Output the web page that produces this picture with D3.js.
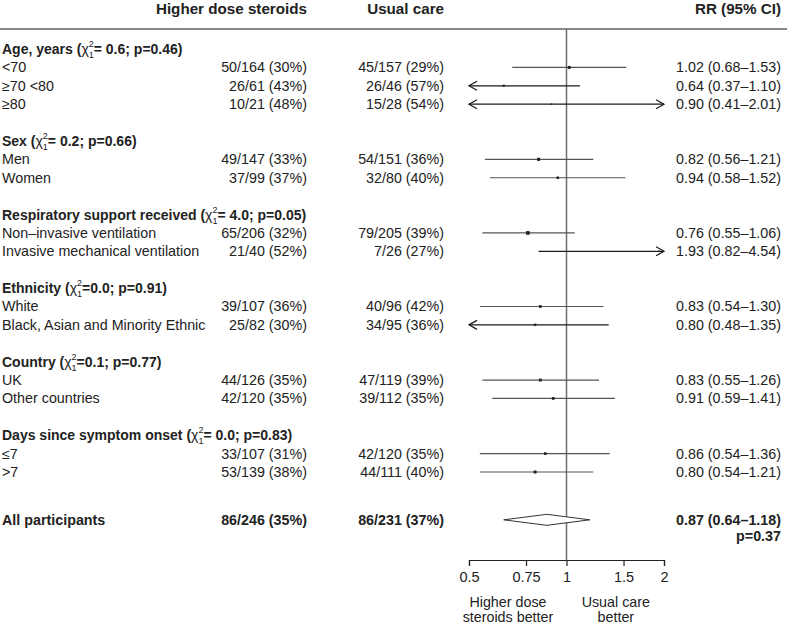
<!DOCTYPE html>
<html>
<head>
<meta charset="utf-8">
<script src="https://cdn.jsdelivr.net/npm/d3@7"></script>
<style>
  body { margin: 0; background: #fff; }
  svg text { font-family: "Liberation Sans", Arial, Helvetica, sans-serif; fill: #222; }
</style>
</head>
<body>
<svg id="forest" width="787" height="626"></svg>
<script>
// subgroup headings with heterogeneity tests
var groupNames = ["Age, years", "Sex", "Respiratory support received", "Ethnicity", "Country", "Days since symptom onset"],
	groupChi = ["= 0.6", "= 0.2", "= 4.0", "=0.0", "=0.1", "= 0.0"],
	groupP = ["0.46", "0.66", "0.05", "0.91", "0.77", "0.83"];

// rows under each heading
var rowLabels = ["<70", "\u226570 <80", "\u226580", "Men", "Women", "Non\u2013invasive ventilation",
		"Invasive mechanical ventilation", "White", "Black, Asian and Minority Ethnic", "UK", "Other countries",
		"\u22647", ">7"],
	rowGroup = [0, 0, 0, 1, 1, 2, 2, 3, 3, 4, 4, 5, 5];

var steroidsText = ["50/164 (30%)", "26/61 (43%)", "10/21 (48%)", "49/147 (33%)", "37/99 (37%)", "65/206 (32%)",
		"21/40 (52%)", "39/107 (36%)", "25/82 (30%)", "44/126 (35%)", "42/120 (35%)", "33/107 (31%)", "53/139 (38%)"],
	usualText = ["45/157 (29%)", "26/46 (57%)", "15/28 (54%)", "54/151 (36%)", "32/80 (40%)", "79/205 (39%)",
		"7/26 (27%)", "40/96 (42%)", "34/95 (36%)", "47/119 (39%)", "39/112 (35%)", "42/120 (35%)", "44/111 (40%)"];

// total events per row (drives box area)
var rowEvents = [95, 52, 25, 103, 69, 144, 28, 79, 59, 91, 81, 75, 97];

var rr = [1.02, 0.64, 0.90, 0.82, 0.94, 0.76, 1.93, 0.83, 0.80, 0.83, 0.91, 0.86, 0.80],
	rrLow = [0.68, 0.37, 0.41, 0.56, 0.58, 0.55, 0.82, 0.54, 0.48, 0.55, 0.59, 0.54, 0.54],
	rrHigh = [1.53, 1.10, 2.01, 1.21, 1.52, 1.06, 4.54, 1.30, 1.35, 1.26, 1.41, 1.36, 1.21];

var overallLabel = "All participants",
	overallSteroids = "86/246 (35%)",
	overallUsual = "86/231 (37%)",
	overallRR = 0.87, overallLow = 0.64, overallHigh = 1.18,
	overallP = "0.37";

var axisTicks = [0.5, 0.75, 1, 1.5, 2];

/*** layout ***/
var labelX = 2,
	col1X = 307,
	col2X = 444,
	rrX = 781,
	axisY = 560,
	fs = "14.3px";

var svg = d3.select("#forest");
var x = d3.scaleLog().domain([0.5, 2]).range([469, 664]);
// one slot per text line: heading, rows, blank
var y = d3.scaleLinear().domain([0, 23]).range([49, 472]);
var boxSize = d3.scaleSqrt().domain([0, 150]).range([0, 3.7]);
var fmt = d3.format(".2f");

function rrLabel(v, lo, hi){
	return fmt(v) + " (" + fmt(lo) + "\u2013" + fmt(hi) + ")";
}

// column headers
svg.append("text").attr("x", col1X).attr("y", 14).attr("text-anchor", "end")
	.attr("font-weight", "bold").attr("font-size", "15.2px").text("Higher dose steroids");
svg.append("text").attr("x", col2X).attr("y", 14).attr("text-anchor", "end")
	.attr("font-weight", "bold").attr("font-size", "15.2px").text("Usual care");
svg.append("text").attr("x", rrX).attr("y", 14).attr("text-anchor", "end")
	.attr("font-weight", "bold").attr("font-size", "15.2px").text("RR (95% CI)");

svg.append("line").attr("x1", 0).attr("x2", 787).attr("y1", 29).attr("y2", 29)
	.attr("stroke", "#888").attr("stroke-width", 2);

// reference line at 1
svg.append("line").attr("x1", x(1)).attr("x2", x(1)).attr("y1", 29).attr("y2", axisY)
	.attr("stroke", "#6e6e6e").attr("stroke-width", 1.5);

// slot index for every row
var slot = [], s = 0, lastGroup = -1;
rowGroup.forEach(function(g){
	if(g != lastGroup){
		if(lastGroup >= 0){ s++; }
		s++;
		lastGroup = g;
	}
	slot.push(s);
	s++;
});

// group headings
groupNames.forEach(function(name, g){
	var first = rowGroup.indexOf(g);
	var t = svg.append("text")
		.attr("x", labelX)
		.attr("y", y(slot[first] - 1) + 5)
		.attr("font-size", "14px")
		.attr("font-weight", "bold");
	t.append("tspan").text(name + " (");
	t.append("tspan").attr("font-weight", "normal").text("\u03c7");
	t.append("tspan").attr("font-weight", "normal").attr("font-size", "9px").attr("dy", -7).text("2");
	t.append("tspan").attr("font-weight", "normal").attr("font-size", "9px").attr("dx", -5).attr("dy", 11).text("1");
	t.append("tspan").attr("dy", -4).text(groupChi[g] + "; p=" + groupP[g] + ")");
});

var rows = svg.selectAll(".row").data(rowLabels).enter()
	.append("g")
	.attr("class", "row")
	.attr("transform", function(d, i){ return "translate(0," + y(slot[i]) + ")"; });

rows.append("text").attr("x", labelX).attr("y", 5).attr("font-size", fs)
	.text(function(d){ return d; });
rows.append("text").attr("x", col1X).attr("y", 5).attr("font-size", fs).attr("text-anchor", "end")
	.text(function(d, i){ return steroidsText[i]; });
rows.append("text").attr("x", col2X).attr("y", 5).attr("font-size", fs).attr("text-anchor", "end")
	.text(function(d, i){ return usualText[i]; });
rows.append("text").attr("x", rrX).attr("y", 5).attr("font-size", fs).attr("text-anchor", "end")
	.text(function(d, i){ return rrLabel(rr[i], rrLow[i], rrHigh[i]); });

rows.each(function(d, i){
	var row = d3.select(this);
	var lo = Math.max(rrLow[i], 0.5), hi = Math.min(rrHigh[i], 2);
	var clipped = rrLow[i] < 0.5 || rrHigh[i] > 2;
	var col = clipped ? "#1a1a1a" : "#555";
	row.append("line")
		.attr("x1", x(lo)).attr("x2", x(hi)).attr("y1", 0).attr("y2", 0)
		.attr("stroke", col).attr("stroke-width", 1.2);
	var b = boxSize(rowEvents[i]);
	row.append("rect")
		.attr("x", x(rr[i]) - b / 2).attr("y", -b / 2)
		.attr("width", b).attr("height", b)
		.attr("fill", "#222");
	if(rrLow[i] < 0.5){
		var x0 = x(0.5);
		row.append("path")
			.attr("d", "M" + (x0 + 8) + ",-4.5L" + x0 + ",0L" + (x0 + 8) + ",4.5")
			.attr("fill", "none").attr("stroke", col).attr("stroke-width", 1.2);
	}
	if(rrHigh[i] > 2){
		var x1 = x(2);
		row.append("path")
			.attr("d", "M" + (x1 - 8) + ",-4.5L" + x1 + ",0L" + (x1 - 8) + ",4.5")
			.attr("fill", "none").attr("stroke", col).attr("stroke-width", 1.2);
	}
});

// overall row
var yAll = y(25.6);
svg.append("text").attr("x", labelX).attr("y", yAll + 5).attr("font-size", fs).attr("font-weight", "bold")
	.text(overallLabel);
svg.append("text").attr("x", col1X).attr("y", yAll + 5).attr("font-size", fs).attr("font-weight", "bold")
	.attr("text-anchor", "end").text(overallSteroids);
svg.append("text").attr("x", col2X).attr("y", yAll + 5).attr("font-size", fs).attr("font-weight", "bold")
	.attr("text-anchor", "end").text(overallUsual);
svg.append("text").attr("x", rrX).attr("y", yAll + 5).attr("font-size", fs).attr("font-weight", "bold")
	.attr("text-anchor", "end").text(rrLabel(overallRR, overallLow, overallHigh));
svg.append("text").attr("x", rrX).attr("y", yAll + 21).attr("font-size", fs).attr("font-weight", "bold")
	.attr("text-anchor", "end").text("p=" + overallP);

svg.append("path")
	.attr("d", "M" + x(overallLow) + "," + yAll + "L" + x(overallRR) + "," + (yAll - 5.5) +
		"L" + x(overallHigh) + "," + yAll + "L" + x(overallRR) + "," + (yAll + 5.5) + "Z")
	.attr("fill", "#fff").attr("stroke", "#333").attr("stroke-width", 1);

// axis
var axis = svg.append("g")
	.attr("transform", "translate(0," + axisY + ")")
	.call(d3.axisBottom(x).tickValues(axisTicks).tickFormat(function(d){ return d; }).tickSize(6).tickPadding(6));
axis.select(".domain").attr("stroke", "#222").attr("stroke-width", 1.2);
axis.selectAll(".tick line").attr("stroke", "#222").attr("stroke-width", 1.2);
axis.selectAll(".tick text").attr("font-size", "14.5px").attr("fill", "#222")
	.attr("font-family", "Liberation Sans, Arial, sans-serif");

// favours labels
var favour = [
	{at: Math.sqrt(0.5 * 0.87), lines: ["Higher dose", "steroids better"]},
	{at: 1.42, lines: ["Usual care", "better"]}
];
favour.forEach(function(f){
	var t = svg.append("text").attr("x", x(f.at)).attr("y", 607)
		.attr("text-anchor", "middle").attr("font-size", fs);
	f.lines.forEach(function(line, k){
		t.append("tspan").attr("x", x(f.at)).attr("dy", k ? 15 : 0).text(line);
	});
});
</script>
</body>
</html>
